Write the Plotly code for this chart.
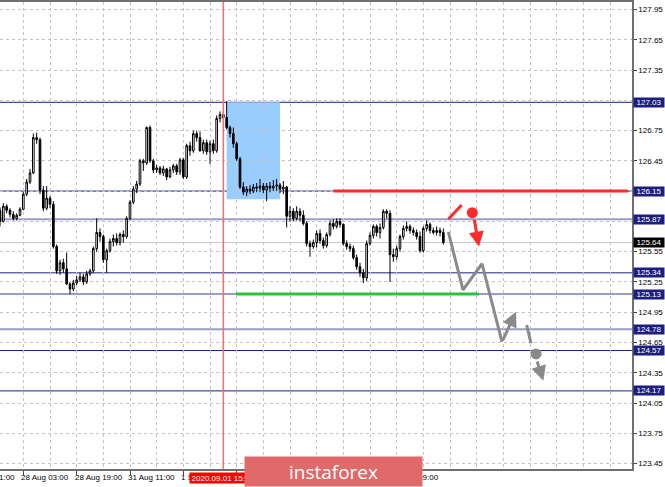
import plotly.graph_objects as go

# USD/JPY H1 candles, one entry per bar (bar index 0 = first bar on screen)
opens = [125.96, 125.85, 126.00, 125.96, 125.92, 125.88, 125.91, 125.97, 126.12, 126.24,
         126.33, 126.68, 126.66, 126.16, 125.98, 126.08, 126.02, 125.60, 125.36, 125.44,
         125.38, 125.23, 125.18, 125.24, 125.27, 125.30, 125.25, 125.33, 125.36, 125.58,
         125.74, 125.70, 125.47, 125.56, 125.65, 125.68, 125.64, 125.72, 125.70, 125.88,
         126.04, 126.17, 126.22, 126.45, 126.43, 126.78, 126.45, 126.36, 126.38, 126.33,
         126.37, 126.29, 126.36, 126.40, 126.34, 126.46, 126.29, 126.60, 126.55, 126.72,
         126.68, 126.55, 126.63, 126.54, 126.62, 126.55, 126.87, 126.91, 126.88, 126.78,
         126.72, 126.62, 126.47, 126.19, 126.14, 126.17, 126.15, 126.19, 126.18, 126.20,
         126.16, 126.20, 126.18, 126.20, 126.21, 126.17, 126.19, 125.90, 125.95, 125.88,
         125.95, 125.91, 125.83, 125.63, 125.60, 125.64, 125.73, 125.66, 125.61, 125.72,
         125.83, 125.80, 125.85, 125.82, 125.63, 125.60, 125.58, 125.49, 125.40, 125.34,
         125.29, 125.63, 125.71, 125.80, 125.74, 125.79, 125.95, 125.93, 125.52, 125.50,
         125.58, 125.70, 125.78, 125.80, 125.76, 125.74, 125.70, 125.56, 125.78, 125.82,
         125.76, 125.74, 125.76, 125.74]
highs = [125.99, 126.03, 126.02, 125.98, 125.95, 125.93, 125.99, 126.14, 126.27, 126.37,
         126.72, 126.73, 126.68, 126.20, 126.20, 126.10, 126.05, 125.62, 125.47, 125.48,
         125.54, 125.25, 125.27, 125.31, 125.34, 125.33, 125.36, 125.38, 125.60, 125.88,
         125.78, 125.72, 125.58, 125.68, 125.72, 125.73, 125.74, 125.76, 125.90, 126.06,
         126.20, 126.25, 126.47, 126.47, 126.79, 126.80, 126.47, 126.41, 126.40, 126.40,
         126.38, 126.39, 126.42, 126.42, 126.48, 126.48, 126.62, 126.64, 126.75, 126.75,
         126.74, 126.66, 126.66, 126.65, 126.66, 126.90, 126.94, 126.93, 127.04, 126.80,
         126.78, 126.64, 126.49, 126.24, 126.20, 126.21, 126.22, 126.23, 126.27, 126.23,
         126.23, 126.24, 126.26, 126.27, 126.23, 126.25, 126.20, 126.00, 125.98, 126.00,
         125.98, 125.96, 125.85, 125.66, 125.67, 125.76, 125.77, 125.69, 125.74, 125.86,
         125.87, 125.88, 125.88, 125.83, 125.66, 125.63, 125.61, 125.52, 125.44, 125.38,
         125.66, 125.74, 125.82, 125.82, 125.83, 125.97, 125.97, 125.96, 125.58, 125.61,
         125.72, 125.81, 125.85, 125.82, 125.79, 125.77, 125.75, 125.80, 125.86, 125.84,
         125.79, 125.80, 125.79, 125.78]
lows = [125.80, 125.84, 125.93, 125.89, 125.86, 125.86, 125.90, 125.96, 126.10, 126.22,
        126.32, 126.62, 126.12, 125.95, 125.96, 125.98, 125.58, 125.33, 125.32, 125.34,
        125.22, 125.13, 125.16, 125.22, 125.25, 125.22, 125.23, 125.31, 125.34, 125.55,
        125.65, 125.44, 125.34, 125.54, 125.60, 125.61, 125.61, 125.64, 125.68, 125.86,
        126.02, 126.13, 126.20, 126.35, 126.41, 126.43, 126.33, 126.33, 126.31, 126.30,
        126.26, 126.28, 126.33, 126.31, 126.31, 126.27, 126.27, 126.50, 126.53, 126.64,
        126.54, 126.52, 126.51, 126.42, 126.52, 126.53, 126.83, 126.85, 126.76, 126.68,
        126.58, 126.45, 126.17, 126.11, 126.10, 126.12, 126.13, 126.14, 126.14, 126.13,
        126.05, 126.14, 126.15, 126.15, 126.13, 126.12, 125.79, 125.85, 125.85, 125.86,
        125.85, 125.81, 125.60, 125.50, 125.58, 125.59, 125.63, 125.58, 125.59, 125.70,
        125.77, 125.78, 125.79, 125.61, 125.57, 125.55, 125.47, 125.37, 125.30, 125.24,
        125.26, 125.61, 125.68, 125.70, 125.68, 125.77, 125.88, 125.25, 125.45, 125.47,
        125.55, 125.67, 125.75, 125.73, 125.71, 125.67, 125.54, 125.54, 125.75, 125.73,
        125.72, 125.71, 125.70, 125.62]
closes = [125.85, 126.00, 125.96, 125.92, 125.88, 125.91, 125.97, 126.12, 126.24, 126.33,
          126.68, 126.66, 126.16, 125.98, 126.08, 126.02, 125.60, 125.36, 125.44, 125.38,
          125.23, 125.18, 125.24, 125.27, 125.30, 125.25, 125.33, 125.36, 125.58, 125.74,
          125.70, 125.47, 125.56, 125.65, 125.68, 125.64, 125.72, 125.70, 125.88, 126.04,
          126.17, 126.22, 126.45, 126.43, 126.78, 126.45, 126.36, 126.38, 126.33, 126.37,
          126.29, 126.36, 126.40, 126.34, 126.46, 126.29, 126.60, 126.55, 126.72, 126.68,
          126.55, 126.63, 126.54, 126.62, 126.55, 126.87, 126.91, 126.88, 126.78, 126.72,
          126.62, 126.47, 126.19, 126.14, 126.17, 126.15, 126.19, 126.18, 126.20, 126.16,
          126.20, 126.18, 126.20, 126.21, 126.17, 126.19, 125.90, 125.95, 125.88, 125.95,
          125.91, 125.83, 125.63, 125.60, 125.64, 125.73, 125.66, 125.61, 125.72, 125.83,
          125.80, 125.85, 125.82, 125.63, 125.60, 125.58, 125.49, 125.40, 125.34, 125.29,
          125.63, 125.71, 125.80, 125.74, 125.79, 125.95, 125.93, 125.52, 125.50, 125.58,
          125.70, 125.78, 125.80, 125.76, 125.74, 125.70, 125.56, 125.78, 125.82, 125.76,
          125.74, 125.76, 125.74, 125.64]
bars = list(range(len(closes)))

# time axis: tick marks every 16 bars, labels where they are not covered by the plate
time_ticks = [-9, 7, 23, 39, 55, 71, 87, 103, 119]
time_labels = ["27 Aug 11:00", "28 Aug 03:00", "28 Aug 19:00", "31 Aug 11:00",
               "1 Sep 03:00", "", "", "", "3 Sep 19:00"]

# price axis
price_ticks = [127.95, 127.65, 127.35, 127.05, 126.75, 126.45, 126.15, 125.85,
               125.55, 125.25, 124.95, 124.65, 124.35, 124.05, 123.75, 123.45]
levels_dark = [127.03, 126.15, 125.34, 124.57, 124.17]
levels_light = [125.87, 125.13, 124.78]
last_price = 125.64

# marked session start
session_bar = 67
session_label = "2020.09.01 15:00"

# consolidation zone
zone_bars = [68, 84]
zone_prices = [126.07, 127.03]

# resistance / support segments
resistance_bars = [100, 188.4]
resistance_price = 126.15
support_bars = [70.8, 143.7]
support_price = 125.13

# forecast sketch
path_bars = [134.5, 138.9, 144.6, 150.6]
path_prices = [125.745, 125.17, 125.43, 124.655]
path_tip_bar, path_tip_price = 154.8, 124.955
dash_bars = [158.0, 159.3]
dash_prices = [124.823, 124.642]
grey_dot = (160.8, 124.536)
grey_arrow_from, grey_arrow_to = (161.0, 124.476), (163.0, 124.271)
red_bars = [134.5, 138.5]
red_prices = [125.87, 126.012]
red_dot = (141.7, 125.936)
red_arrow_from, red_arrow_to = (142.2, 125.88), (143.7, 125.60)

X_RANGE = [0, 189.6]
Y_RANGE = [123.396, 128.024]

FONT = "Liberation Sans"
NAVY = "#1c1f7e"
LAVENDER = "#9a9acb"
GRID = "#c4c4c4"

# price labels hidden under a level tag are left blank
tag_values = levels_dark + levels_light
price_text = ["" if any(abs(v - t) < 0.025 for t in tag_values) else f"{v:.2f}"
              for v in price_ticks]

fig = go.Figure()

fig.add_trace(go.Candlestick(
    x=bars, open=opens, high=highs, low=lows, close=closes,
    increasing=dict(line=dict(color="#000000", width=1), fillcolor="#ffffff"),
    decreasing=dict(line=dict(color="#000000", width=1), fillcolor="#000000"),
    whiskerwidth=0, hoverinfo="skip", showlegend=False,
))

shapes = []
# consolidation box (behind candles)
shapes.append(dict(type="rect", xref="x", yref="y", x0=zone_bars[0], x1=zone_bars[1],
                   y0=zone_prices[0], y1=zone_prices[1], fillcolor="#99ccff",
                   line=dict(width=0), layer="below"))
# bid line
shapes.append(dict(type="line", xref="paper", yref="y", x0=0, x1=1, y0=last_price,
                   y1=last_price, line=dict(color="#c8c8c8", width=1), layer="below"))
for lv in levels_light:
    shapes.append(dict(type="line", xref="paper", yref="y", x0=0, x1=1, y0=lv, y1=lv,
                       line=dict(color=LAVENDER, width=2), layer="below"))
for lv in levels_dark:
    shapes.append(dict(type="line", xref="paper", yref="y", x0=0, x1=1, y0=lv, y1=lv,
                       line=dict(color=NAVY, width=1), layer="below"))
# session vertical line
shapes.append(dict(type="line", xref="x", yref="paper", x0=session_bar, x1=session_bar,
                   y0=0, y1=1, line=dict(color="#ff6a6a", width=1.5)))
# resistance and support strokes
shapes.append(dict(type="line", xref="x", yref="y", x0=resistance_bars[0],
                   x1=resistance_bars[1], y0=resistance_price, y1=resistance_price,
                   line=dict(color="#ff2a2a", width=3)))
shapes.append(dict(type="line", xref="x", yref="y", x0=support_bars[0],
                   x1=support_bars[1], y0=support_price, y1=support_price,
                   line=dict(color="#2fbf3f", width=3)))
fig.update_layout(shapes=shapes)

# forecast path
fig.add_trace(go.Scatter(x=path_bars, y=path_prices, mode="lines",
                         line=dict(color="#8a8a8a", width=3), hoverinfo="skip",
                         showlegend=False))
fig.add_trace(go.Scatter(x=dash_bars, y=dash_prices, mode="lines",
                         line=dict(color="#8a8a8a", width=3), hoverinfo="skip",
                         showlegend=False))
fig.add_trace(go.Scatter(x=[grey_dot[0]], y=[grey_dot[1]], mode="markers",
                         marker=dict(color="#8a8a8a", size=11), hoverinfo="skip",
                         showlegend=False))
fig.add_trace(go.Scatter(x=red_bars, y=red_prices, mode="lines",
                         line=dict(color="#ff2a2a", width=3), hoverinfo="skip",
                         showlegend=False))
fig.add_trace(go.Scatter(x=[red_dot[0]], y=[red_dot[1]], mode="markers",
                         marker=dict(color="#ff2a2a", size=11), hoverinfo="skip",
                         showlegend=False))

annotations = []


def arrow(tail, head, color):
    return dict(x=head[0], y=head[1], ax=tail[0], ay=tail[1], xref="x", yref="y",
                axref="x", ayref="y", text="", showarrow=True, arrowhead=2,
                arrowsize=1, arrowwidth=3, arrowcolor=color)


annotations.append(arrow((path_bars[-1], path_prices[-1]), (path_tip_bar, path_tip_price),
                         "#8a8a8a"))
annotations.append(arrow(grey_arrow_from, grey_arrow_to, "#8a8a8a"))
annotations.append(arrow(red_arrow_from, red_arrow_to, "#ff2a2a"))

# time labels, left-aligned at their tick
for tb, tl in zip(time_ticks, time_labels):
    if not tl:
        continue
    common = dict(y=0, yref="paper", text=tl, showarrow=False, xanchor="left",
                  yanchor="top", xshift=-4, yshift=-2,
                  font=dict(family=FONT, size=8, color="#000000"))
    if tb < X_RANGE[0]:
        xpos = (tb - X_RANGE[0]) / (X_RANGE[1] - X_RANGE[0])
        annotations.append(dict(x=xpos, xref="paper", **common))
    else:
        annotations.append(dict(x=tb, xref="x", **common))

# session date tag
annotations.append(dict(x=session_bar, y=0, xref="x", yref="paper", text=session_label,
                        showarrow=False, xanchor="center", yanchor="top", yshift=-3,
                        bgcolor="#ff0000", width=66, height=10, borderpad=0,
                        font=dict(family=FONT, size=8, color="#ffffff")))

# price level tags on the right scale
for lv in tag_values:
    annotations.append(dict(x=1, y=lv, xref="paper", yref="y", text=f"{lv:.2f}",
                            showarrow=False, xanchor="left", yanchor="middle", xshift=1,
                            bgcolor=NAVY, width=30, height=9, borderpad=0,
                            font=dict(family=FONT, size=8, color="#ffffff")))
annotations.append(dict(x=1, y=last_price, xref="paper", yref="y",
                        text=f"{last_price:.2f}", showarrow=False, xanchor="left",
                        yanchor="middle", xshift=1, bgcolor="#000000", width=30,
                        height=9, borderpad=0,
                        font=dict(family=FONT, size=8, color="#ffffff")))

# brand plate
annotations.append(dict(x=0.386, y=0.0278, xref="paper", yref="paper", text="instaforex",
                        showarrow=False, xanchor="left", yanchor="top",
                        bgcolor="#e06a6a", width=177, height=29, borderpad=0,
                        font=dict(family="Open Sans", size=19, color="#ffffff")))

fig.update_layout(annotations=annotations)

fig.update_layout(
    width=665, height=487,
    margin=dict(l=0, r=33, t=2, b=18),
    paper_bgcolor="#ffffff", plot_bgcolor="#ffffff",
    showlegend=False, hovermode=False,
    xaxis=dict(
        range=X_RANGE, rangeslider=dict(visible=False),
        tickmode="array", tickvals=time_ticks, showticklabels=False,
        ticks="outside", ticklen=4, tickcolor="#404040", tickwidth=1,
        showgrid=True, gridcolor=GRID, griddash="3px,3px", gridwidth=1,
        minor=dict(tickmode="linear", tick0=7, dtick=8, showgrid=True,
                   gridcolor=GRID, griddash="3px,3px", gridwidth=1, ticks=""),
        showline=True, linecolor="#707070", linewidth=1.5, mirror=True,
        zeroline=False, fixedrange=True,
    ),
    yaxis=dict(
        range=Y_RANGE, side="right",
        tickmode="array", tickvals=price_ticks, ticktext=price_text,
        ticks="outside", ticklen=3, tickcolor="#404040",
        tickfont=dict(family=FONT, size=8, color="#000000"),
        showgrid=True, gridcolor=GRID, griddash="3px,3px", gridwidth=1,
        showline=True, linecolor="#707070", linewidth=1.5,
        zeroline=False, fixedrange=True,
    ),
)

fig.write_html("out.html")
